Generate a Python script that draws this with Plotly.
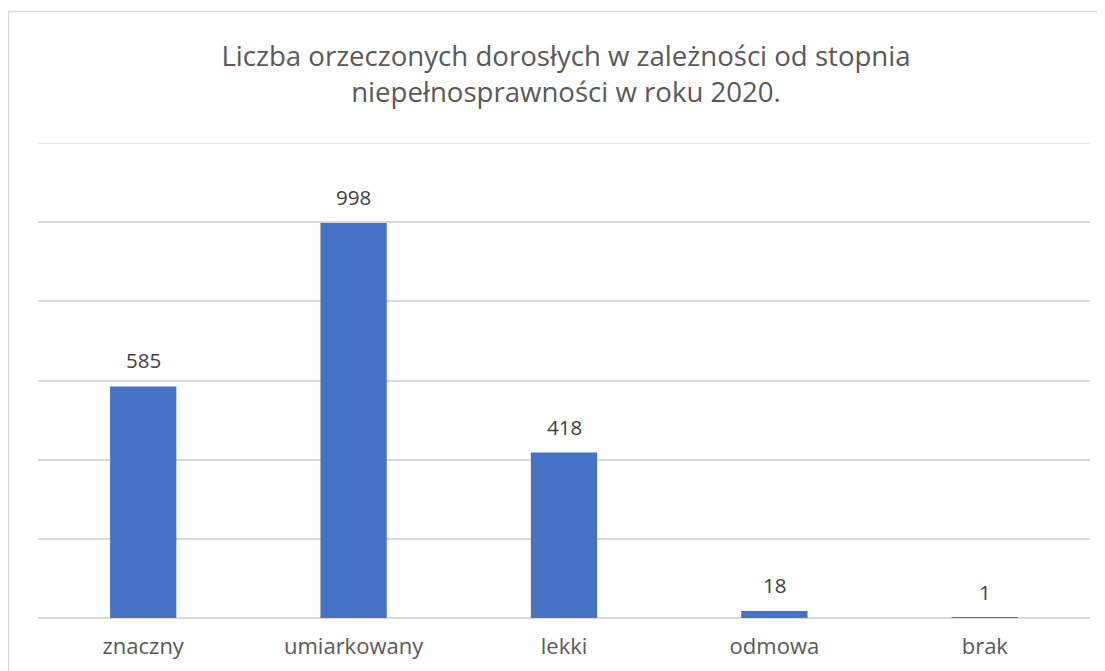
import plotly.graph_objects as go

categories = ["znaczny", "umiarkowany", "lekki", "odmowa", "brak"]
values = [585, 998, 418, 18, 1]
y_max = 1200
y_step = 200

# page body has an 8px margin; work in figure pixel coordinates
OFF = 8
W, H = 1105 - OFF, 671 - OFF
ml, mr, mt, mb = 38 - OFF, 15, 143 - OFF, 671 - 618
pw, ph = W - ml - mr, H - mt - mb

def px2paper_x(px):
    return (px - OFF - ml) / pw

def px2paper_y(py):
    return (H - mb - (py - OFF)) / ph

FONT = "Open Sans"

fig = go.Figure()
fig.add_trace(go.Bar(
    x=categories, y=values,
    marker=dict(color="#4472C4", line=dict(width=0)),
    width=0.315, hoverinfo="x+y",
))

annotations = [
    dict(x=c, y=v, xref="x", yref="y", text=str(v), showarrow=False,
         yanchor="bottom", yshift=10,
         font=dict(family=FONT, size=20.5, color="#404040"))
    for c, v in zip(categories, values)
]

fig.update_layout(
    width=W, height=H,
    margin=dict(l=ml, r=mr, t=mt, b=mb),
    paper_bgcolor="white", plot_bgcolor="white",
    showlegend=False,
    title=dict(
        text="Liczba orzeczonych dorosłych w zależności od stopnia<br>niepełnosprawności w roku 2020.",
        x=px2paper_x(566), xref="paper", xanchor="center",
        y=1 - 58 / H, yanchor="middle",
        font=dict(family=FONT, size=27.6, color="#595959"),
    ),
    xaxis=dict(
        showgrid=False, showline=False, zeroline=False, ticks="",
        ticklabelstandoff=13,
        tickfont=dict(family=FONT, size=22, color="#595959"),
    ),
    yaxis=dict(
        range=[0, y_max], tick0=0, dtick=y_step, showticklabels=False,
        showgrid=True, gridcolor="#D9D9D9", gridwidth=1.5,
        zeroline=True, zerolinecolor="#D9D9D9", zerolinewidth=1.5,
        showline=False, ticks="",
    ),
    annotations=annotations,
    shapes=[
        dict(
            type="rect", xref="paper", yref="paper",
            x0=px2paper_x(8.5), x1=px2paper_x(1200),
            y0=px2paper_y(800), y1=px2paper_y(11.5),
            line=dict(color="#D9D9D9", width=1.5), fillcolor="rgba(0,0,0,0)",
            layer="below",
        ),
        dict(
            type="line", xref="paper", yref="y",
            x0=0, x1=1, y0=y_max, y1=y_max,
            line=dict(color="#D9D9D9", width=1.5), layer="below",
        ),
    ],
)

fig.write_html("out.html")
